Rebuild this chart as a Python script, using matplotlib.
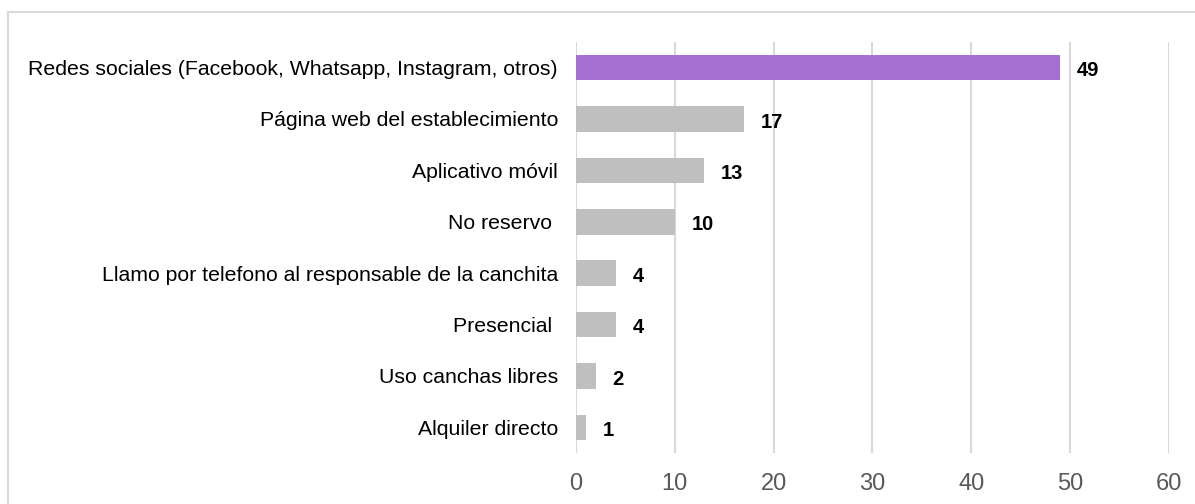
import matplotlib.pyplot as plt
from matplotlib.patches import Rectangle

plt.rcParams['font.family'] = ['Liberation Sans', 'DejaVu Sans']

categorias = [
    'Redes sociales (Facebook, Whatsapp, Instagram, otros)',
    'Página web del establecimiento',
    'Aplicativo móvil',
    'No reservo ',
    'Llamo por telefono al responsable de la canchita',
    'Presencial ',
    'Uso canchas libres',
    'Alquiler directo',
]
valores = [49, 17, 13, 10, 4, 4, 2, 1]
colores = ['#A66FD3'] + ['#BFBFBF'] * 7
ticks_x = [0, 10, 20, 30, 40, 50, 60]

fig = plt.figure(figsize=(11.95, 5.04), dpi=100)
ax = fig.add_axes([0.482, 0.101, 0.496, 0.816])

pos = list(range(len(categorias)))
ax.barh(pos, valores, height=0.5, color=colores, zorder=3)
ax.set_yticks(pos)
ax.set_yticklabels(categorias, fontsize=15.3, color='black')
ax.set_ylim(len(categorias) - 0.5, -0.5)

ax.set_xlim(0, 60)
ax.set_xticks(ticks_x)
ax.set_xticklabels([str(t) for t in ticks_x], fontsize=17, color='#595959')
ax.tick_params(axis='y', length=0, pad=13)
ax.tick_params(axis='x', length=0, pad=14)
ax.grid(axis='x', color='#D9D9D9', linewidth=1.5, zorder=0)

for s in ax.spines.values():
    s.set_visible(False)

# etiquetas de valor al final de cada barra
for p, v in zip(pos, valores):
    ax.text(v + 1.7, p + 0.06, str(v), va='center', ha='left',
            fontsize=14.5, fontweight='bold', color='black')

# marco del gráfico
fig.patches.append(Rectangle((8 / 1195, -0.05), 1.1, 1.05 - 12 / 504,
                             transform=fig.transFigure, fill=False,
                             edgecolor='#D9D9D9', linewidth=1.5))

fig.savefig('out.png', dpi=100)
